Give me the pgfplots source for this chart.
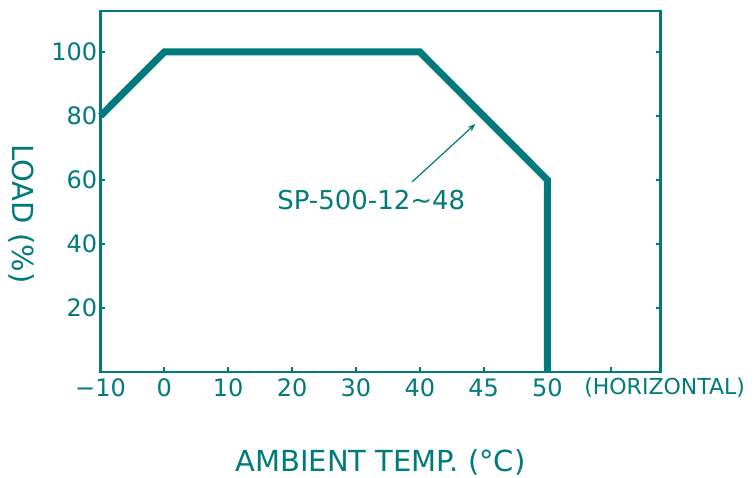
\documentclass[border=0pt]{standalone}
\usepackage{pgfplots}
\pgfplotsset{compat=1.18}
\usepackage{fontspec}
\setmainfont{DejaVu Sans}
\usetikzlibrary{arrows.meta}
\definecolor{teal}{RGB}{0,122,122}
\begin{document}
\begin{tikzpicture}
\path[use as bounding box] (-50.25pt,-52.5pt) rectangle (326.75pt,186pt);
\begin{axis}[
    at={(0,0)}, anchor=south west,
    scale only axis,
    width=280pt, height=180.5pt,
    xmin=0, xmax=8.77,
    ymin=0, ymax=112.8,
    axis line style={teal, line width=1.2pt},
    tick style={teal, line width=1pt},
    major tick length=2.5pt,
    tick align=inside,
    xtick pos=bottom,
    ytick pos=both,
    xtick={0,1,2,3,4,5,6,7,8},
    xticklabels={−10,0,10,20,30,40,45,50,},
    ytick={20,40,60,80,100},
    yticklabels={20,40,60,80,100},
    ticklabel style={font=\fontsize{12}{14}\selectfont, text=teal},
    xticklabel style={anchor=center, yshift=-8pt},
    yticklabel style={anchor=east, inner sep=0pt, xshift=-1.5pt},
    xlabel={AMBIENT TEMP. (°C)},
    xlabel style={font=\fontsize{14.5}{16}\selectfont, text=teal, at={(axis description cs:0.5,0)}, anchor=center, yshift=-45pt},
    clip=false,
]
% derating curve, x in tick index (-10,0,10,20,30,40,45,50 -> 0..7)
\addplot[teal, line width=3.5pt] coordinates {
    (0,80) (1,100) (5,100) (7,60) (7,0)
};
\draw[teal, line width=0.6pt, -{Stealth[length=4pt,width=3pt]}] (axis cs:4.88,59.4) -- (axis cs:5.87,77.5);
\node[text=teal, font=\fontsize{13}{15}\selectfont] at (axis cs:4.24,53.75) {SP-500-12\textasciitilde 48};
\node[text=teal, font=\fontsize{11}{13}\selectfont, anchor=west, inner sep=0pt] at (axis cs:7.57,-5) {(HORIZONTAL)};
\node[text=teal, font=\fontsize{14.5}{16}\selectfont, rotate=-90] at ([xshift=-39.25pt]rel axis cs:0,0.438) {LOAD (\%)};
\end{axis}
\end{tikzpicture}
\end{document}
